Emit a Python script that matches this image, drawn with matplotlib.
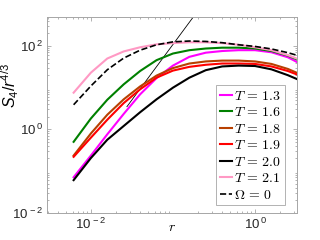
import numpy as np
import matplotlib
matplotlib.use("Agg")
from matplotlib import pyplot as plt

plt.rcParams['font.family'] = ['Liberation Sans', 'DejaVu Sans']
plt.rcParams['mathtext.fontset'] = 'custom'
plt.rcParams['mathtext.rm'] = 'Liberation Sans'
plt.rcParams['mathtext.it'] = 'Liberation Sans:italic'

# r grid (log10) shared by all curves
log_r = [-2.21, -2.0, -1.8, -1.6, -1.4, -1.2, -1.0, -0.8, -0.6, -0.4, -0.2, 0.0, 0.2, 0.4, 0.507]

# log10 of S_4 / r^(4/3)
log_s_13 = [-1.15, -0.63, -0.12, 0.37, 0.84, 1.23, 1.53, 1.74, 1.84, 1.88, 1.90, 1.90, 1.85, 1.73, 1.62]
log_s_16 = [-0.30, 0.26, 0.71, 1.08, 1.40, 1.66, 1.82, 1.90, 1.94, 1.96, 1.96, 1.94, 1.88, 1.77, 1.68]
log_s_18 = [-0.63, -0.10, 0.35, 0.72, 1.03, 1.29, 1.47, 1.58, 1.63, 1.65, 1.65, 1.63, 1.57, 1.45, 1.36]
log_s_19 = [-0.66, -0.20, 0.23, 0.63, 0.96, 1.24, 1.41, 1.50, 1.55, 1.58, 1.58, 1.57, 1.51, 1.40, 1.32]
log_s_20 = [-1.22, -0.69, -0.25, 0.08, 0.41, 0.72, 1.00, 1.24, 1.42, 1.51, 1.53, 1.52, 1.44, 1.30, 1.21]
log_s_21 = [0.88, 1.36, 1.70, 1.87, 1.97, 2.04, 2.07, 2.09, 2.09, 2.07, 2.03, 1.97, 1.90, 1.78, 1.70]
log_s_om0 = [0.59, 1.04, 1.43, 1.71, 1.90, 2.03, 2.10, 2.12, 2.11, 2.08, 2.03, 1.99, 1.93, 1.84, 1.78]

# thin reference line
ref_r = [0.0275, 0.2]
ref_s = [3.5, 690]

labels = ['$T\\,=\\,1.3$', '$T\\,=\\,1.6$', '$T\\,=\\,1.8$', '$T\\,=\\,1.9$',
          '$T\\,=\\,2.0$', '$T\\,=\\,2.1$']
colors = ['#ff00ff', '#008000', '#b84000', '#ff0000', '#000000', '#ff99c4']

xticks = [1e-2, 1e0]
xticklabels = ['$10^{\\,-2}$', '$10^{\\,0}$']
yticks = [1e-2, 1e0, 1e2]
yticklabels = ['$10^{\\,-2}$', '$10^{\\,0}$', '$10^{\\,2}$']

r = 10**np.array(log_r)

fig = plt.figure(figsize=(3.2, 2.4), dpi=100)
ax = fig.add_axes([0.148, 0.114, 0.779, 0.814])

ax.plot(ref_r, ref_s, color='k', lw=0.6)
for s, lab, c in zip([log_s_13, log_s_16, log_s_18, log_s_19, log_s_20, log_s_21], labels, colors):
    ax.plot(r, 10**np.array(s), color=c, lw=1.5, label=lab)
ax.plot(r, 10**np.array(log_s_om0), 'k--', lw=1.2, label='$\\Omega\\,=\\,0$')

ax.set_xscale('log')
ax.set_yscale('log')
ax.set_xlim(10**-2.53, 10**0.507)
ax.set_ylim(1e-2, 10**2.69)

ax.set_xticks(xticks)
ax.set_xticklabels(xticklabels)
ax.set_yticks(yticks)
ax.set_yticklabels(yticklabels)

gray = '#a6a6a6'
for sp in ax.spines.values():
    sp.set_color(gray)
    sp.set_linewidth(0.7)
ax.tick_params(which='both', direction='in', top=True, right=True, color=gray,
               labelsize=9.5, labelcolor='#262626', width=0.6)
ax.tick_params(which='major', length=3, pad=3)
ax.tick_params(which='minor', length=1.5)

ax.set_xlabel('$r$', fontsize=10, math_fontfamily='cm')
ax.xaxis.set_label_coords(0.5, -0.04)
ax.set_ylabel('$S_4/r^{4/3}$', fontsize=11.5)
ax.yaxis.set_label_coords(-0.105, 0.65)

leg = ax.legend(loc='lower right', bbox_to_anchor=(0.953, 0.039), borderaxespad=0,
                fontsize=10, handlelength=0.9, handletextpad=0.15, labelspacing=0.18,
                borderpad=0.25, fancybox=False, framealpha=1, edgecolor=gray)
leg.get_frame().set_linewidth(0.6)
for t in leg.get_texts():
    t.set_math_fontfamily('cm')

fig.savefig('out.png', dpi=100)
